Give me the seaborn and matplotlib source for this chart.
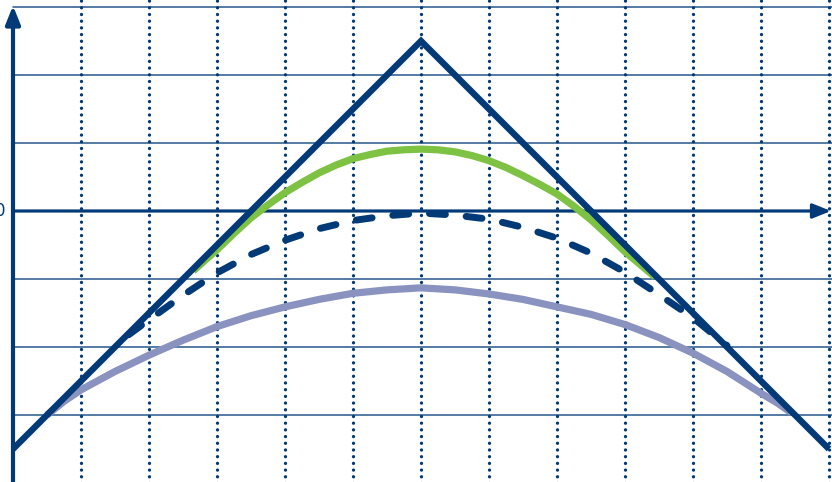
import matplotlib
matplotlib.use("Agg")
import matplotlib.pyplot as plt
import seaborn as sns
import pandas as pd

# ---- data ----
tri_x = [0, 6, 12]
tri_y = [-3.5, 2.5, -3.5]

green_x = [2.65, 3.0, 3.25, 3.5, 3.75, 4.0, 4.25, 4.5, 4.75, 5.0, 5.25, 5.5, 5.75, 6.0,
           6.25, 6.5, 6.75, 7.0, 7.25, 7.5, 7.75, 8.0, 8.25, 8.5, 8.75, 9.0, 9.44]
green_y = [-0.88, -0.57, -0.33, -0.10, 0.09, 0.27, 0.42, 0.56, 0.675, 0.77, 0.83, 0.88, 0.90, 0.91,
           0.90, 0.87, 0.815, 0.74, 0.64, 0.52, 0.39, 0.25, 0.07, -0.13, -0.36, -0.60, -0.97]

dash_x = [1.7, 2.0, 2.5, 3.0, 3.5, 4.0, 4.5, 5.0, 5.5, 6.0, 6.5, 7.0, 7.5, 8.0, 8.5, 9.0, 9.5, 10.0, 10.5]
dash_y = [-1.82, -1.60, -1.24, -0.91, -0.64, -0.43, -0.26, -0.14, -0.07, -0.03, -0.06, -0.12, -0.24, -0.40,
          -0.62, -0.90, -1.23, -1.57, -1.98]

gray_x = [0.5, 0.75, 1.0, 1.5, 2.0, 2.5, 3.0, 3.5, 4.0, 4.5, 5.0, 5.5, 6.0, 6.5, 7.0, 7.5, 8.0, 8.5, 9.0, 9.5,
          10.0, 10.5, 11.0, 11.25, 11.45]
gray_y = [-3.0, -2.80, -2.63, -2.36, -2.12, -1.90, -1.70, -1.54, -1.41, -1.30, -1.21, -1.16, -1.13, -1.16, -1.22,
          -1.30, -1.41, -1.52, -1.67, -1.86, -2.09, -2.36, -2.68, -2.83, -2.97]

vgrid_x = [1, 2, 3, 4, 5, 6, 7, 8, 9, 10, 11, 12]
hgrid_y = [-3, -2, -1, 1, 2, 3]
zero_label = "0"

NAVY = "#013a77"
GREEN = "#7dc243"
LILAC = "#8a93bf"

sns.set_theme(style="white")
fig = plt.figure(figsize=(8.32, 4.82), dpi=100)
ax = fig.add_axes([0, 0, 1, 1])
ax.set_xlim(-13 / 68, 819 / 68)
ax.set_ylim(-271 / 68, 211 / 68)
for s in ax.spines.values():
    s.set_visible(False)
ax.set_xticks([])
ax.set_yticks([])
ax.grid(False)

# grid lines
for gx in vgrid_x:
    ax.plot([gx, gx], [-4.2, 3.3], color=NAVY, lw=2.4, linestyle=(0, (0.01, 2.0)),
            dash_capstyle="round", zorder=1)
for gy in hgrid_y:
    ax.plot([0, 12.2], [gy, gy], color=NAVY, lw=1.1, alpha=0.85, zorder=1)

# axes with arrows
ax.annotate("", xy=(12.03, 0), xytext=(0, 0),
            arrowprops=dict(arrowstyle="-|>,head_length=0.55,head_width=0.22", lw=2.3,
                            color=NAVY, mutation_scale=20, shrinkA=0, shrinkB=0), zorder=2)
ax.annotate("", xy=(0, 3.02), xytext=(0, -4.2),
            arrowprops=dict(arrowstyle="-|>,head_length=0.55,head_width=0.22", lw=3.0,
                            color=NAVY, mutation_scale=20, shrinkA=0, shrinkB=0), zorder=2)
ax.text(-0.11, 0, zero_label, ha="right", va="center", fontsize=12, color=NAVY)

# curves
sns.lineplot(data=pd.DataFrame({"x": gray_x, "y": gray_y}), x="x", y="y", ax=ax,
             color=LILAC, lw=5.2, sort=False, zorder=3, solid_capstyle="butt")
sns.lineplot(data=pd.DataFrame({"x": green_x, "y": green_y}), x="x", y="y", ax=ax,
             color=GREEN, lw=5.2, sort=False, zorder=4, solid_capstyle="butt")
dl = sns.lineplot(data=pd.DataFrame({"x": dash_x, "y": dash_y}), x="x", y="y", ax=ax,
                  color=NAVY, lw=5, sort=False, zorder=4)
dl.lines[-1].set_linestyle((0, (2.3, 3.0)))
dl.lines[-1].set_dash_capstyle("round")
tl = sns.lineplot(data=pd.DataFrame({"x": tri_x, "y": tri_y}), x="x", y="y", ax=ax,
                  color=NAVY, lw=4.6, sort=False, zorder=5)
tl.lines[-1].set_solid_joinstyle("miter")
tl.lines[-1].set_solid_capstyle("butt")

ax.set_xlabel("")
ax.set_ylabel("")
ax.set_xlim(-13 / 68, 819 / 68)
ax.set_ylim(-271 / 68, 211 / 68)
fig.savefig("out.png", dpi=100)
